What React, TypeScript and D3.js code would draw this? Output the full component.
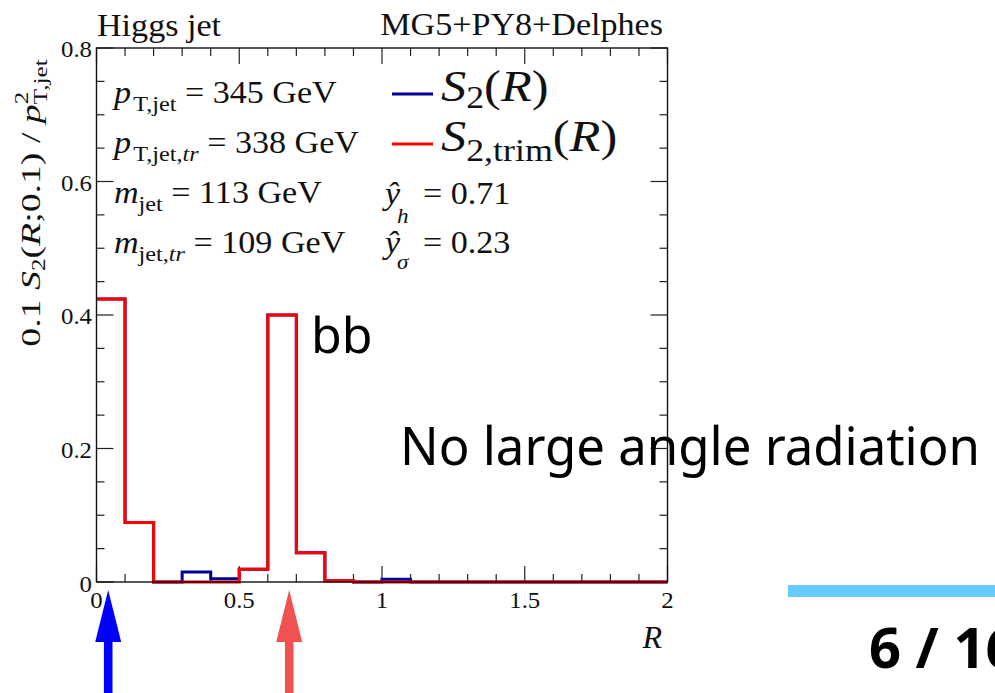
import React from 'react';
import * as d3 from 'd3';

// ---- data ----
const binEdges = [0, 0.1, 0.2, 0.3, 0.4, 0.5, 0.6, 0.7, 0.8, 0.9, 1.0, 1.1, 1.2, 1.3, 1.4, 1.5, 1.6, 1.7, 1.8, 1.9, 2.0];
const s2Full = [0.424, 0.089, 0, 0.015, 0.005, 0.019, 0.4, 0.044, 0.002, 0, 0.004, 0, 0, 0, 0, 0, 0, 0, 0, 0];
const s2Trim = [0.424, 0.089, 0, 0, 0, 0.019, 0.4, 0.044, 0.002, 0, 0, 0, 0, 0, 0, 0, 0, 0, 0, 0];
const xTickValues = [0, 0.5, 1, 1.5, 2];
const xTickLabels = ['0', '0.5', '1', '1.5', '2'];
const yTickValues = [0, 0.2, 0.4, 0.6, 0.8];
const yTickLabels = ['0', '0.2', '0.4', '0.6', '0.8'];
const arrowR = [0.041, 0.675];
const arrowColors = ['#0000ff', '#f05252'];

const W = 995;
const H = 693;
const SERIF = '"Liberation Serif", "Times New Roman", serif';
const SANS = '"Noto Sans", "Open Sans", sans-serif';

const xScale = d3.scaleLinear().domain([0, 2]).range([96.5, 667.5]);
const yScale = d3.scaleLinear().domain([0, 0.8]).range([582, 48]);

function stepPath(vals: number[]): string {
  const pts: [number, number][] = [];
  vals.forEach((v, i) => {
    pts.push([xScale(binEdges[i]), yScale(v)]);
    pts.push([xScale(binEdges[i + 1]), yScale(v)]);
  });
  return d3.line()(pts) || '';
}

const SX = 1.1;
const ST = ({ x, y, sx = SX, children, ...rest }: any) => (
  <g transform={`translate(${x},${y}) scale(${sx},1)`}>
    <text x={0} y={0} fontFamily={SERIF} {...rest}>{children}</text>
  </g>
);

export default function App() {
  const [x0, x1] = xScale.range();
  const [y0, y1] = yScale.range();
  const xMinor = d3.range(0, 2.0001, 0.1);
  const yMinor = d3.range(0, 0.8001, 0.05);
  const isMajorX = (v: number) => xTickValues.some((t) => Math.abs(t - v) < 1e-6);
  const isMajorY = (v: number) => yTickValues.some((t) => Math.abs(t - v) < 1e-6);

  return (
    <svg width={W} height={H} style={{ position: 'absolute', left: 0, top: 0, background: '#fff' }}>
      <rect x={0} y={0} width={W} height={H} fill="#fff" />
      {/* ticks */}
      <g stroke="#222" strokeWidth={1.2}>
        {xMinor.map((v, i) => {
          const len = isMajorX(v) ? 16 : 8;
          const x = xScale(v);
          return (
            <g key={'xt' + i}>
              <line x1={x} x2={x} y1={y0} y2={y0 - len} />
              <line x1={x} x2={x} y1={y1} y2={y1 + len} />
            </g>
          );
        })}
        {yMinor.map((v, i) => {
          const len = isMajorY(v) ? 17 : 8;
          const y = yScale(v);
          return (
            <g key={'yt' + i}>
              <line x1={x0} x2={x0 + len} y1={y} y2={y} />
              <line x1={x1} x2={x1 - len} y1={y} y2={y} />
            </g>
          );
        })}
      </g>
      {/* histograms */}
      <path d={stepPath(s2Full)} fill="none" stroke="#000099" strokeWidth={3} />
      <path d={stepPath(s2Trim)} fill="none" stroke="#ff0000" strokeWidth={3} />
      {/* frame */}
      <rect x={x0} y={y1} width={x1 - x0} height={y0 - y1} fill="none" stroke="#111" strokeWidth={1.4} />
      {/* tick labels */}
      {xTickValues.map((v, i) => (
        <ST key={'xl' + i} x={xScale(v)} y={608} sx={1.08} fontSize={23} textAnchor="middle" fill="#111">{xTickLabels[i]}</ST>
      ))}
      {yTickValues.map((v, i) => (
        <ST key={'yl' + i} x={92} y={yScale(v) + (v === 0 ? 10 : 9)} sx={1.08} fontSize={23} textAnchor="end" fill="#111">{yTickLabels[i]}</ST>
      ))}
      {/* axis titles */}
      <text x={662} y={648} fontFamily={SERIF} fontSize={32} fontStyle="italic" textAnchor="end" fill="#111">R</text>
      <text transform="translate(40,203) rotate(-90) scale(1.4,1)" fontFamily={SERIF} fontSize={27} textAnchor="middle" fill="#111">
        <tspan>0.1 </tspan>
        <tspan fontStyle="italic">S</tspan>
        <tspan fontSize={18} dy={5}>2</tspan>
        <tspan dy={-5}>(</tspan>
        <tspan fontStyle="italic">R</tspan>
        <tspan>;0.1) / </tspan>
        <tspan fontStyle="italic">p</tspan>
        <tspan fontSize={18} dy={-12}>2</tspan>
        <tspan fontSize={18} dx={-9} dy={19}>T,jet</tspan>
      </text>
      {/* header */}
      <ST x={97} y={36} fontSize={31} fill="#111">Higgs jet</ST>
      <ST x={663} y={35} fontSize={31} textAnchor="end" fill="#111">MG5+PY8+Delphes</ST>
      {/* info text */}
      <ST x={114} y={103} fontSize={31} fill="#111">
        <tspan fontStyle="italic">p</tspan>
        <tspan fontSize={22} dx={2} dy={8}>T,jet</tspan>
        <tspan dy={-8}> = 345 GeV</tspan>
      </ST>
      <ST x={114} y={153} fontSize={31} fill="#111">
        <tspan fontStyle="italic">p</tspan>
        <tspan fontSize={22} dx={2} dy={8}>T,jet,</tspan>
        <tspan fontSize={22} fontStyle="italic">tr</tspan>
        <tspan dy={-8}> = 338 GeV</tspan>
      </ST>
      <ST x={114} y={203} fontSize={31} fill="#111">
        <tspan fontStyle="italic">m</tspan>
        <tspan fontSize={22} dy={8}>jet</tspan>
        <tspan dy={-8}> = 113 GeV</tspan>
      </ST>
      <ST x={114} y={253} fontSize={31} fill="#111">
        <tspan fontStyle="italic">m</tspan>
        <tspan fontSize={22} dy={8}>jet,</tspan>
        <tspan fontSize={22} fontStyle="italic">tr</tspan>
        <tspan dy={-8}> = 109 GeV</tspan>
      </ST>
      {/* legend */}
      <line x1={392} x2={433} y1={94} y2={94} stroke="#000099" strokeWidth={3} />
      <line x1={392} x2={433} y1={144} y2={144} stroke="#ff0000" strokeWidth={3} />
      <ST x={441} y={101} sx={1.12} fontSize={45} fill="#111">
        <tspan fontStyle="italic">S</tspan>
        <tspan fontSize={32} dy={7}>2</tspan>
        <tspan dy={-7}>(</tspan>
        <tspan fontStyle="italic">R</tspan>
        <tspan>)</tspan>
      </ST>
      <ST x={441} y={151} sx={1.12} fontSize={45} fill="#111">
        <tspan fontStyle="italic">S</tspan>
        <tspan fontSize={32} dy={10}>2,trim</tspan>
        <tspan dy={-10}>(</tspan>
        <tspan fontStyle="italic">R</tspan>
        <tspan>)</tspan>
      </ST>
      <ST x={385} y={204} fontSize={31} fontStyle="italic" fill="#111">ŷ</ST>
      <ST x={397} y={223} fontSize={21} fontStyle="italic" fill="#111">h</ST>
      <ST x={423} y={204} fontSize={31} fill="#111">= 0.71</ST>
      <ST x={385} y={253} fontSize={31} fontStyle="italic" fill="#111">ŷ</ST>
      <ST x={397} y={269} fontSize={21} fontStyle="italic" fill="#111">σ</ST>
      <ST x={423} y={253} fontSize={31} fill="#111">= 0.23</ST>
      {/* slide annotations */}
      <text x={311} y={353} fontFamily={SANS} fontSize={50} fill="#000">bb</text>
      <text x={400} y={465} fontFamily={SANS} fontSize={52} fill="#000" textLength={580} lengthAdjust="spacingAndGlyphs">No large angle radiation</text>
      <rect x={788} y={585} width={W - 788} height={12} fill="#66ccff" />
      <text x={869} y={668} fontFamily={SANS} fontSize={56} fontWeight="bold" fill="#000">6 / 16</text>
      {/* arrows */}
      {arrowR.map((r, i) => {
        const cx = xScale(r);
        const tip = 590;
        const base = 642;
        const hw = 13;
        const sw = 4.3;
        const d = `M${cx},${tip} L${cx + hw},${base} L${cx + sw},${base} L${cx + sw},${H} L${cx - sw},${H} L${cx - sw},${base} L${cx - hw},${base} Z`;
        return <path key={'ar' + i} d={d} fill={arrowColors[i]} />;
      })}
    </svg>
  );
}
